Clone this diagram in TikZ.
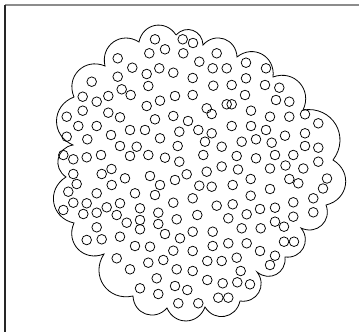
\documentclass[tikz,border=0pt]{standalone}
\usetikzlibrary{positioning}

\begin{document}
\begin{tikzpicture}[
        x=1pt, y=-1pt,
        burbuja/.style={draw, circle, minimum size=9.6pt, inner sep=0pt, line width=0.75pt},
        nube/.style={draw, line width=0.8pt, bend left=68, looseness=1.3},
        marco/.style={line width=1.4pt}
    ]
    \useasboundingbox (0,0) rectangle (359,332);

    % marco
    \draw[marco, black!45] (5,5) -- (359,5);
    \draw[marco, black!85] (5,5) -- (5,332);

    % contorno de la nube
    \foreach \x/\y [count=\i] in {176/35, 203/45, 237/57, 273/77, 303/110, 333/160,
        326/205, 301/228, 285/257, 257/272, 240/301, 205/307, 167/308, 133/296,
        104/254, 74/223, 66/177, 73/145, 74/97, 105/66, 139/42}
        \coordinate (c\i) at (\x,\y);
    \draw[nube] (c1) foreach \j in {2,...,21,1} { to (c\j) };

    % burbujas
    \foreach \x/\y [count=\i] in {
        155/39.3, 182.7/39.3, 193/43, 165/49.3, 149.3/53.3, 183.3/53.3, 216.7/53.3,
        117.7/58.3, 199.3/61.7, 246/62.7, 132.3/67.7, 159.3/68.3, 212.7/68.3,
        226.7/68.3, 266/68.3, 146.7/74, 173.3/72.7, 117.7/76.7, 192.7/78, 246/78.3,
        91.7/81.7, 213.3/85.7, 231.7/85, 265/85, 279.3/87.7, 148.3/86, 121.7/89.3,
        130.7/95, 82.7/96.7, 108.3/96, 175/96, 192.7/95, 245/95, 96.7/101.7,
        160/100.7, 276/100, 289.3/101.7, 226.7/104.3, 231.7/104.3, 146.7/106,
        206.7/108.3, 211.7/114, 251/110.7, 82.7/110.7, 108.3/112.7, 66.7/116.7,
        120/117.3, 155/119.3, 173.3/116, 188/121, 270/116.7, 289.3/116.7,
        305/114.3, 318.3/123.3, 78.3/126, 96.7/126, 130/130, 145/130, 179.3/131.7,
        198.3/130, 211.7/133.3, 231.7/126, 251/126, 266/130, 285/135.7, 305/133.3,
        66.7/136.7, 87.3/139.3, 111/135, 160/138.3, 205/141.7, 241.7/141.7,
        256/139.3, 271.7/142.7, 120/146, 136.7/146.7, 177.7/146, 221.7/146.7,
        305/146, 318.3/147.7, 63.3/155, 73.3/159.3, 86.7/157.3, 101/155, 130/156,
        148.3/155, 165/157.7, 179.3/161.7, 203.3/155, 236.7/156, 256/158.3,
        275/155, 293.3/155, 318.3/161.7, 111.5/169, 221.7/166.5, 238/169.5,
        270/168.5, 285.5/165.5, 303.3/168.5, 73.3/174, 101.7/174, 125/178.3,
        150/176, 175/180, 186.7/174.3, 206.7/171.7, 327/178.5, 76.7/184,
        111.7/185, 160/185, 199.3/185.7, 211.7/186.7, 232.7/185, 250.7/179,
        270/189, 289.3/179, 298.3/183.3, 323/188.5, 68.3/191.7, 96.7/193.3,
        135/193.3, 155/195, 250.7/195.7, 73.3/202.7, 86.7/203.3, 120/203.3,
        173.3/202.7, 192.7/198.3, 313.3/198.3, 63.3/210, 83.3/214, 96.7/212.7,
        106.7/207.3, 116.7/215, 140/208.3, 158.3/212.7, 216.7/205.7, 232.7/204.3,
        260/209, 275/207.7, 293.3/202.3, 313.3/212.3, 126.7/222.7, 140/220,
        140/229.3, 158.3/224, 176.7/219.3, 197.3/215, 228.3/218.3, 246.7/214.3,
        275/221.7, 293.3/216.7, 284/226.7, 96.7/227.3, 165/234, 120/236.7,
        86.7/240, 101.7/239.3, 180/238.3, 192.7/231.7, 212.7/231.7, 241.7/228.3,
        260.7/228.3, 284/241.7, 294/241.7, 135/246, 150/246.7, 173.3/250.7,
        212.7/246, 228.3/243.3, 246.7/243.3, 192.7/251, 260/251, 275/255.7,
        148.3/262.7, 163.3/260, 116.7/258.3, 236.7/257.7, 207.3/261, 221.7/261,
        130/269.3, 176.7/269.3, 270/265, 240.7/271, 192.7/271, 156.7/278.3,
        207.3/280, 222.7/283.3, 237.3/282.3, 250/284.3, 140/288.3, 175/286,
        187.3/290, 158.3/294, 218.3/297.7, 228.3/297.7, 178.3/303.3, 198.3/303.3}
        \node[burbuja] (b\i) at (\x,\y) {};
\end{tikzpicture}
\end{document}
